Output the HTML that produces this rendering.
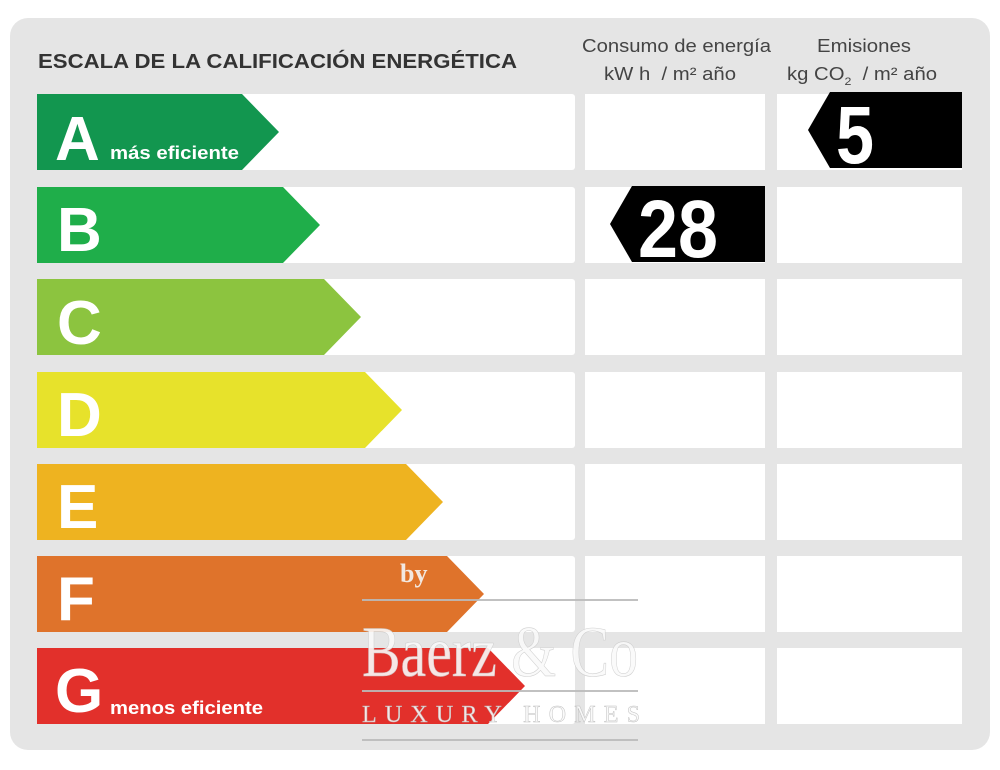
<!DOCTYPE html>
<html><head><meta charset="utf-8"><style>
body{margin:0;width:1000px;height:770px;background:#fff;font-family:"Liberation Sans",sans-serif;position:relative;overflow:hidden}
.panel{position:absolute;left:10px;top:18px;width:980px;height:732px;background:#e5e5e5;border-radius:18px}
.t{position:absolute;color:#333}
</style></head><body>
<div class="panel"></div>
<svg width="1000" height="770" style="position:absolute;left:0;top:0" font-family="Liberation Sans, sans-serif">
<text x="38" y="68" fill="#333" font-weight="bold" font-size="20" textLength="479" lengthAdjust="spacingAndGlyphs">ESCALA DE LA CALIFICACIÓN ENERGÉTICA</text>
<text x="582" y="52" fill="#444" font-size="18" textLength="189" lengthAdjust="spacingAndGlyphs">Consumo de energía</text>
<text x="604" y="80" fill="#444" font-size="18" textLength="132" lengthAdjust="spacingAndGlyphs">kW h &#160;/ m² año</text>
<text x="817" y="52" fill="#444" font-size="18" textLength="94" lengthAdjust="spacingAndGlyphs">Emisiones</text>
<text x="787" y="80" fill="#444" font-size="18" textLength="150" lengthAdjust="spacingAndGlyphs">kg CO<tspan font-size="11" dy="5">2</tspan><tspan dy="-5"> &#160;/ m² año</tspan></text>
<g fill="#fff">
<rect x="37" y="94" width="538" height="76" rx="3"/><rect x="585" y="94" width="180" height="76"/><rect x="777" y="94" width="185" height="76"/>
<rect x="37" y="187" width="538" height="76" rx="3"/><rect x="585" y="187" width="180" height="76"/><rect x="777" y="187" width="185" height="76"/>
<rect x="37" y="279" width="538" height="76" rx="3"/><rect x="585" y="279" width="180" height="76"/><rect x="777" y="279" width="185" height="76"/>
<rect x="37" y="372" width="538" height="76" rx="3"/><rect x="585" y="372" width="180" height="76"/><rect x="777" y="372" width="185" height="76"/>
<rect x="37" y="464" width="538" height="76" rx="3"/><rect x="585" y="464" width="180" height="76"/><rect x="777" y="464" width="185" height="76"/>
<rect x="37" y="556" width="538" height="76" rx="3"/><rect x="585" y="556" width="180" height="76"/><rect x="777" y="556" width="185" height="76"/>
<rect x="37" y="648" width="538" height="76" rx="3"/><rect x="585" y="648" width="180" height="76"/><rect x="777" y="648" width="185" height="76"/>
</g>
<polygon points="37,94 242,94 279,132 242,170 37,170" fill="#12964f"/>
<polygon points="37,187 283,187 320,225 283,263 37,263" fill="#1fae4a"/>
<polygon points="37,279 324,279 361,317 324,355 37,355" fill="#8cc43f"/>
<polygon points="37,372 365,372 402,410 365,448 37,448" fill="#e7e22b"/>
<polygon points="37,464 406,464 443,502 406,540 37,540" fill="#eeb320"/>
<polygon points="37,556 447,556 484,594 447,632 37,632" fill="#df732b"/>
<polygon points="37,648 488,648 525,686 488,724 37,724" fill="#e2302b"/>
<g fill="#fff" font-weight="bold" font-size="62">
<text x="55" y="160">A</text><text x="57" y="251">B</text><text x="57" y="344">C</text><text x="57" y="436">D</text><text x="57" y="528">E</text><text x="57" y="620">F</text><text x="55" y="712">G</text>
</g>
<text x="110" y="159" fill="#fff" font-weight="bold" font-size="18" textLength="129" lengthAdjust="spacingAndGlyphs">más eficiente</text>
<text x="110" y="714" fill="#fff" font-weight="bold" font-size="18" textLength="153" lengthAdjust="spacingAndGlyphs">menos eficiente</text>
<polygon points="830,92 962,92 962,168 830,168 808,130" fill="#000"/>
<text x="836" y="163" fill="#fff" font-weight="bold" font-size="82" textLength="38" lengthAdjust="spacingAndGlyphs">5</text>
<polygon points="632,186 765,186 765,262 632,262 610,224" fill="#000"/>
<text x="638" y="257" fill="#fff" font-weight="bold" font-size="82" textLength="80" lengthAdjust="spacingAndGlyphs">28</text>
<g opacity="0.9">
<text x="400" y="582" fill="#f5f5f5" font-family="Liberation Serif, serif" font-size="26" font-weight="bold">by</text>
<line x1="362" y1="600" x2="638" y2="600" stroke="#bbb" stroke-width="2"/>
<text x="362" y="676" fill="#fafafa" stroke="#ccc" stroke-width="0.6" font-family="Liberation Serif, serif" font-size="72" textLength="276" lengthAdjust="spacingAndGlyphs">Baerz &amp; Co</text>
<line x1="362" y1="691" x2="638" y2="691" stroke="#bbb" stroke-width="2"/>
<text x="362" y="722" fill="#fafafa" stroke="#bbb" stroke-width="0.5" font-family="Liberation Serif, serif" font-size="24" textLength="278" lengthAdjust="spacing">LUXURY HOMES</text>
<line x1="362" y1="740" x2="638" y2="740" stroke="#bbb" stroke-width="2"/>
</g>
</svg>
</body></html>
